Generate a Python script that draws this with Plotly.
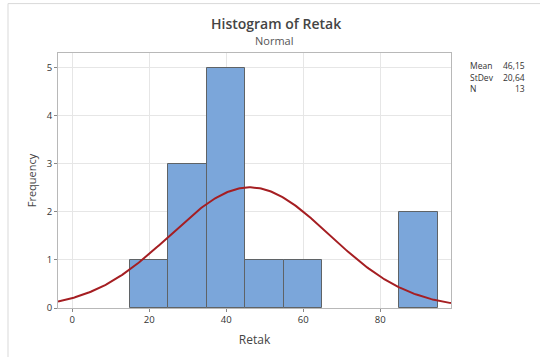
import math
import plotly.graph_objects as go

# ---- data ----
bin_left = [15, 25, 35, 45, 55, 85]
bin_width = 10
counts = [1, 3, 5, 1, 1, 2]
mean_val = 46.15
stdev_val = 20.64
n_val = 13
x_ticks = [0, 20, 40, 60, 80]
y_ticks = [0, 1, 2, 3, 4, 5]
x_range = [-3.7, 98.4]
y_range = [0, 5.31]

bin_centers = [b + bin_width / 2 for b in bin_left]

# fitted normal curve (scaled to counts)
curve_x = [x_range[0] + i * (x_range[1] - x_range[0]) / 300 for i in range(301)]
curve_y = [n_val * bin_width * math.exp(-0.5 * ((x - mean_val) / stdev_val) ** 2)
           / (stdev_val * math.sqrt(2 * math.pi)) for x in curve_x]

FONT = "Open Sans"
fig = go.Figure()
fig.add_trace(go.Bar(
    x=bin_centers, y=counts, width=[bin_width] * len(counts),
    marker=dict(color="#7BA6DA", line=dict(color="#5f6366", width=1)),
    hoverinfo="x+y", showlegend=False,
))
fig.add_trace(go.Scatter(
    x=curve_x, y=curve_y, mode="lines",
    line=dict(color="#A51E22", width=2), showlegend=False, hoverinfo="skip",
))

# pixel geometry of plot area
W, H = 540, 357
L, R, T, B = 58, 451, 53, 311


def px(x):
    return (x - L) / (R - L)


def py(y):
    return (B - y) / (B - T)


fig.update_layout(
    width=W, height=H,
    margin=dict(l=L, r=W - R, t=T, b=H - B, pad=0),
    paper_bgcolor="white", plot_bgcolor="white",
    bargap=0,
    font=dict(family=FONT, color="#333333", size=9),
    xaxis=dict(range=x_range, tickvals=x_ticks, showgrid=True, gridcolor="#e6e6e6",
               gridwidth=1, zeroline=False, showline=True, linecolor="#b8b8b8",
               mirror=True, ticks="outside", ticklen=3, tickcolor="#888888",
               tickfont=dict(size=9.5, color="#333333"),
               title=dict(text="Retak", font=dict(size=12, color="#444444"), standoff=10)),
    yaxis=dict(range=y_range, tickvals=y_ticks, showgrid=True, gridcolor="#e6e6e6",
               gridwidth=1, zeroline=False, showline=True, linecolor="#b8b8b8",
               mirror=True, ticks="outside", ticklen=3, tickcolor="#888888",
               tickfont=dict(size=9.5, color="#333333"),
               title=dict(text="Frequency", font=dict(size=11, color="#444444"), standoff=7)),
    shapes=[
        dict(type="line", xref="paper", yref="paper", x0=px(8), x1=px(8),
             y0=py(H + 5), y1=py(3), line=dict(color="#d9d9d9", width=1)),
        dict(type="line", xref="paper", yref="paper", x0=px(8), x1=px(W + 5),
             y0=py(3), y1=py(3), line=dict(color="#d9d9d9", width=1)),
    ],
)

ann = [
    dict(text="Histogram of Retak", x=px(276), y=py(23), size=14, color="#444444",
         xanchor="center", weight=600),
    dict(text="Normal", x=px(274), y=py(40), size=11, color="#555555", xanchor="center",
         weight=400),
    dict(text="Mean", x=px(468), y=py(66), size=8.5, color="#333333", xanchor="left", weight=400),
    dict(text="StDev", x=px(468), y=py(77.5), size=8.5, color="#333333", xanchor="left", weight=400),
    dict(text="N", x=px(468), y=py(89), size=8.5, color="#333333", xanchor="left", weight=400),
    dict(text=f"{mean_val:.2f}".replace(".", ","), x=px(527), y=py(66), size=8.5,
         color="#333333", xanchor="right", weight=400),
    dict(text=f"{stdev_val:.2f}".replace(".", ","), x=px(527), y=py(77.5), size=8.5,
         color="#333333", xanchor="right", weight=400),
    dict(text=str(n_val), x=px(527), y=py(89), size=8.5, color="#333333", xanchor="right",
         weight=400),
]
for a in ann:
    fig.add_annotation(text=a["text"], x=a["x"], y=a["y"], xref="paper", yref="paper",
                       xanchor=a["xanchor"], yanchor="middle", showarrow=False,
                       font=dict(family=FONT, size=a["size"], color=a["color"],
                                 weight=a["weight"]))

fig.write_html("out.html", config={"displayModeBar": False},
               post_script="document.body.style.margin='0';document.body.style.padding='0';")
